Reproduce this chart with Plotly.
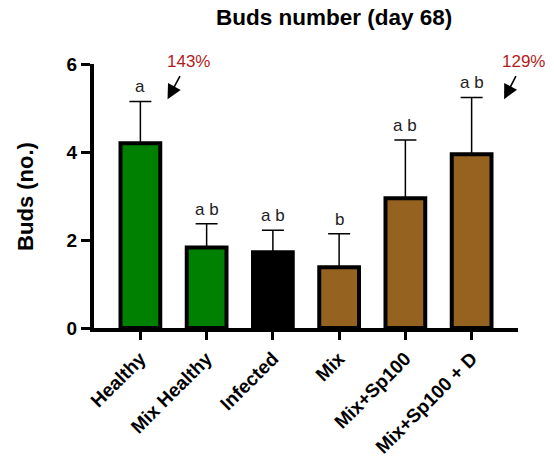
import plotly.graph_objects as go

categories = ["Healthy", "Mix Healthy", "Infected", "Mix", "Mix+Sp100", "Mix+Sp100 + D"]
means = [4.2, 1.83, 1.72, 1.38, 2.95, 3.95]
sd_upper = [0.95, 0.54, 0.50, 0.76, 1.32, 1.29]
letters = ["a", "a b", "a b", "b", "a b", "a b"]
bar_colors = ["#008000", "#008000", "#000000", "#956220", "#956220", "#956220"]
callout_idx = [0, 5]
callout_text = ["143%", "129%"]
yticks = [0, 2, 4, 6]

FONT = "Liberation Sans, Arial, sans-serif"
x = list(range(len(categories)))

fig = go.Figure()
fig.add_trace(go.Bar(
    x=x, y=means, width=0.6,
    marker=dict(color=bar_colors, line=dict(color="black", width=4)),
    error_y=dict(type="data", array=sd_upper, arrayminus=[0] * len(means),
                 symmetric=False, color="black", thickness=1.5, width=11),
    hoverinfo="skip",
))

annotations = []
for i, (m, s, t) in enumerate(zip(means, sd_upper, letters)):
    annotations.append(dict(x=i, y=m + s, text=t, showarrow=False, yanchor="bottom",
                            yshift=3, font=dict(family=FONT, size=17, color="#222")))

# callout arrows (offsets relative to the bar) and label positions (paper x)
head_dx = [0.41, 0.49]
tail_dx = [0.61, 0.68]
text_px = [0.223, 1.012]
for k, (i, t) in enumerate(zip(callout_idx, callout_text)):
    annotations.append(dict(x=i + head_dx[k], y=5.2, ax=i + tail_dx[k], ay=5.76,
                            axref="x", ayref="y", xref="x", yref="y", text="",
                            showarrow=True, arrowhead=2, arrowsize=1.8, arrowwidth=1.6,
                            arrowcolor="black"))
    annotations.append(dict(x=text_px[k], y=1.01, xref="paper", yref="paper",
                            text=t, showarrow=False, xanchor="center", yanchor="middle",
                            font=dict(family=FONT, size=17, color="#b31b1b")))

annotations.append(dict(xref="paper", yref="paper", x=-0.163, y=0.5, text="Buds (no.)",
                        textangle=-90, showarrow=False, xanchor="center", yanchor="middle",
                        font=dict(family=FONT, size=22, color="black", weight="bold")))
annotations.append(dict(xref="paper", yref="paper", x=0.566, y=1.176,
                        text="Buds number (day 68)", showarrow=False,
                        xanchor="center", yanchor="middle",
                        font=dict(family=FONT, size=22.5, color="black", weight="bold")))

fig.update_layout(
    width=554, height=463,
    margin=dict(l=94, r=36, t=64, b=135, autoexpand=False),
    plot_bgcolor="white", paper_bgcolor="white",
    showlegend=False,
    annotations=annotations,
    xaxis=dict(range=[-0.7, 5.7], tickmode="array", tickvals=x, ticktext=categories,
               tickangle=-45, ticks="outside", ticklen=8, tickwidth=3, tickcolor="black",
               showline=True, linewidth=4, linecolor="black", showgrid=False, zeroline=False,
               automargin=False,
               tickfont=dict(family=FONT, size=19, color="black", weight="bold")),
    yaxis=dict(range=[0, 6], tickvals=yticks, ticks="outside", ticklen=9, tickwidth=3,
               tickcolor="black", showline=True, linewidth=4, linecolor="black",
               showgrid=False, zeroline=False, automargin=False,
               tickfont=dict(family=FONT, size=19, color="black", weight="bold")),
)

fig.write_html("out.html")
